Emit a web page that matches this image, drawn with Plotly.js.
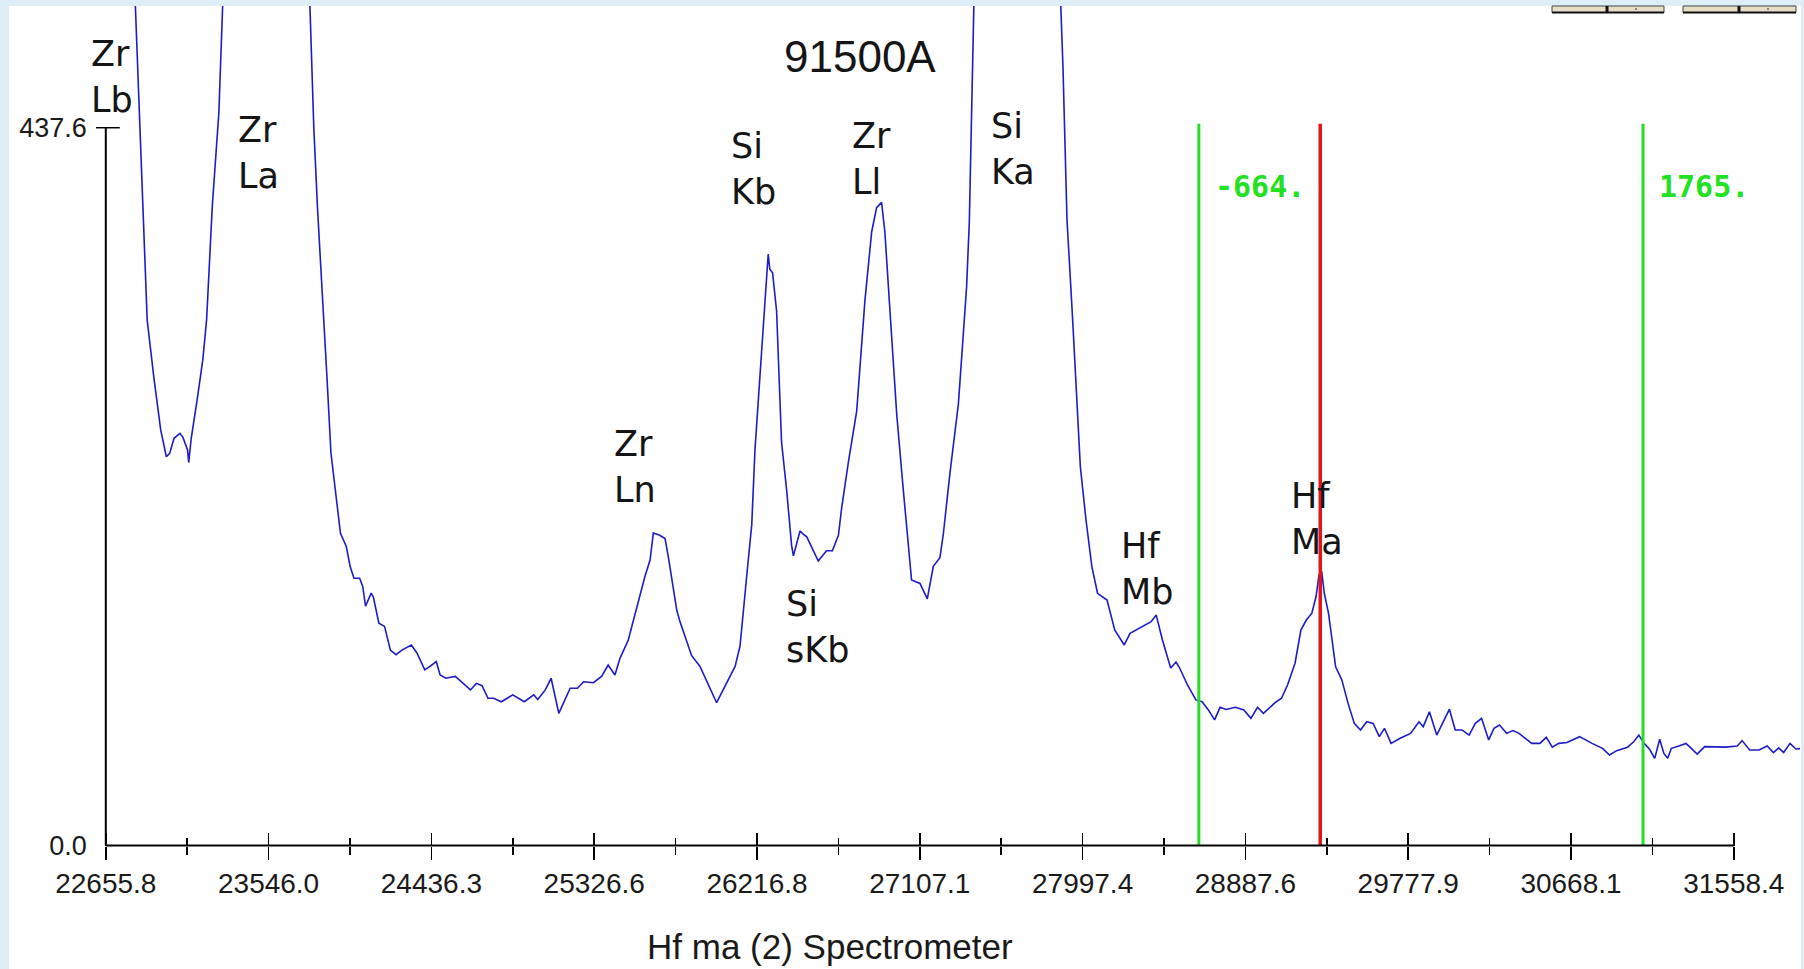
<!DOCTYPE html>
<html>
<head>
<meta charset="utf-8">
<script src="https://cdn.plot.ly/plotly-3.0.1.min.js"></script>
<style>
html,body{margin:0;padding:0;background:#dfedf7;}
#chart{width:1804px;height:969px;}
</style>
</head>
<body>
<div id="chart"></div>
<script>
// ---- spectrum data (spectrometer position vs counts) ----
const position = [22656,22706,22769,22819,22851,22882,22920,22956,22987,23005,
23029,23061,23077,23103,23109,23123,23155,23186,23207,23238,
23274,23291,23335,23430,23530,23681,23751,23772,23793,23813,
23845,23866,23887,23919,23939,23971,23992,24013,24044,24061,
24076,24107,24119,24149,24180,24212,24243,24275,24327,24358,
24400,24430,24463,24484,24515,24567,24650,24682,24713,24746,
24776,24819,24881,24944,24996,25018,25059,25091,25133,25195,
25235,25269,25322,25367,25403,25440,25468,25513,25559,25604,
25632,25650,25682,25714,25732,25778,25795,25859,25905,25996,
26097,26124,26169,26188,26206,26233,26261,26278,26287,26302,
26324,26351,26379,26406,26416,26428,26452,26468,26489,26552,
26597,26629,26662,26680,26716,26762,26807,26844,26871,26898,
26916,26944,26981,27017,27062,27108,27148,27181,27217,27235,
27272,27318,27345,27363,27378,27393,27406,27456,27632,27815,
27878,27890,27901,27912,27943,27964,27985,28016,28048,28079,
28131,28173,28225,28257,28309,28372,28400,28434,28479,28508,
28526,28571,28617,28651,28685,28719,28749,28782,28833,28879,
28918,28954,28986,29050,29085,29118,29159,29191,29221,29251,
29274,29290,29305,29319,29342,29358,29381,29415,29449,29483,
29517,29551,29586,29620,29648,29684,29734,29791,29837,29860,
29894,29934,29973,30003,30035,30072,30111,30145,30179,30218,
30247,30277,30316,30350,30384,30453,30498,30533,30566,30601,
30646,30715,30783,30840,30879,30918,30977,31011,31039,31068,
31098,31126,31153,31176,31197,31217,31258,31297,31326,31358,
31399,31445,31513,31577,31604,31645,31697,31741,31775,31804,
31831,31866,31898,31942];

const counts = [725.8,796.0,655.7,511.9,417.3,320.5,284.0,253.4,237.0,239.1,
248.3,251.3,249.0,241.2,233.5,248.3,271.6,295.9,320.5,389.5,
446.7,511.9,690.8,936.2,2479,866.1,585.6,511.9,438.3,389.5,
320.5,283.8,239.3,209.0,190.4,182.3,170.1,163.0,163.0,157.8,
145.9,153.9,151.5,135.6,133.6,119.2,116.4,119.2,122.3,117.3,
107.1,109.4,112.2,104.0,102.0,103.1,94.9,98.9,97.5,89.8,
89.8,87.7,91.9,87.7,91.9,89.1,94.9,102.0,80.6,95.9,
95.9,99.9,99.3,103.1,110.1,104.0,114.3,125.3,145.7,164.0,
174.1,190.5,189.3,187.2,176.0,143.6,136.7,115.9,109.2,87.1,
109.2,121.6,174.1,195.5,241.7,288.0,334.3,360.5,351.3,349.2,
325.9,246.0,216.6,183.0,176.6,182.3,191.8,190.0,188.2,173.5,
179.7,179.7,189.2,206.0,233.3,264.9,332.2,374.2,388.9,392.1,
374.2,325.9,262.8,216.6,161.9,159.8,150.4,170.3,175.5,189.2,
227.1,269.1,311.1,340.5,380.5,445.3,511.9,796.0,2619,796.0,
511.9,474.8,428.1,381.5,320.5,279.7,231.0,198.5,170.1,153.8,
149.7,131.4,122.3,129.4,132.5,136.5,140.5,125.3,108.3,111.9,
108.7,97.9,88.8,87.7,82.7,76.6,84.3,83.0,84.3,82.7,
77.6,84.3,80.6,87.1,89.8,97.9,111.2,131.4,137.5,141.7,
151.8,164.9,167.0,153.8,141.7,127.4,109.0,101.0,86.7,74.5,
70.5,75.5,74.5,66.4,71.5,62.3,65.4,68.4,75.5,72.5,
81.6,67.4,76.6,83.1,70.5,70.5,67.4,74.5,77.6,64.4,
71.5,73.5,68.4,70.1,68.4,62.3,62.3,66.0,60.0,62.3,
62.8,66.4,62.3,59.3,55.2,57.9,60.0,63.3,67.4,62.3,
58.7,53.2,64.8,56.2,53.3,59.3,60.7,62.3,59.3,55.8,
60.3,60.0,60.0,60.7,64.0,58.3,58.3,60.7,56.7,59.6,
56.7,62.3,58.9,59.3];

// ---- axis ticks ----
const tickPositions = [22655.8,23546.0,24436.3,25326.6,26216.8,27107.1,27997.4,28887.6,29777.9,30668.1,31558.4];
const tickLabels = ['22655.8','23546.0','24436.3','25326.6','26216.8','27107.1','27997.4','28887.6','29777.9','30668.1','31558.4'];
const minorTickPositions = [23100.9,23991.2,24881.5,25771.7,26662.0,27552.3,28442.5,29332.8,30223.0,31113.3];
const yTickValues = [0, 437.6];
const yTickLabels = ['0.0', '437.6'];

// ---- peak / background markers ----
const peakPosition = 29297;
const backgroundOffsets = [-664, 1765];
const backgroundLabels = ['-664.', '1765.'];
const markerTop = 440;

// ---- peak identification labels (text, left px, middle px) ----
const peakLabels = [
  {text:'Zr<br>Lb', left:89, mid:77},
  {text:'Zr<br>La', left:236, mid:153},
  {text:'Si<br>Kb', left:729, mid:169},
  {text:'Zr<br>Ll', left:850, mid:159},
  {text:'Si<br>Ka', left:989, mid:149},
  {text:'Zr<br>Ln', left:612, mid:467},
  {text:'Si<br>sKb', left:784, mid:627},
  {text:'Hf<br>Mb', left:1119, mid:569},
  {text:'Hf<br>Ma', left:1289, mid:519}
];

// ---- layout geometry ----
const W = 1804, H = 969;
const M = {l:96, r:4, t:6, b:113};
const plotW = W - M.l - M.r, plotH = H - M.t - M.b;
const px2x = p => (p - M.l) / plotW;
const px2y = p => (H - M.b - p) / plotH;
const xRange = [22602.2, 31920.4];
const yRange = [-6.34, 511.8];
const xAxisPos = px2y(845.6);
const yAxisPos = px2x(105.8);

const BLUE = '#1c1cc8', GREEN = '#22e022', RED = '#e3141a';

const traces = [
  {x: position, y: counts, type:'scatter', mode:'lines',
   line:{color:BLUE, width:1.6}, hoverinfo:'skip', showlegend:false}
];
const bgPositions = backgroundOffsets.map(o => peakPosition + o);
bgPositions.forEach(p => traces.push({x:[p,p], y:[0,markerTop], type:'scatter', mode:'lines',
  line:{color:GREEN, width:3}, hoverinfo:'skip', showlegend:false}));
traces.push({x:[peakPosition,peakPosition], y:[0,markerTop], type:'scatter', mode:'lines',
  line:{color:RED, width:3.5}, hoverinfo:'skip', showlegend:false});
traces.push({x:[tickPositions[0]], y:[0], xaxis:'x2', type:'scatter', mode:'markers',
  marker:{opacity:0}, hoverinfo:'skip', showlegend:false});

const labelFont = {family:'DejaVu Sans', size:35, color:'#151515'};
const annotations = peakLabels.map(l => ({
  xref:'paper', yref:'paper', x:px2x(l.left), y:px2y(l.mid),
  xanchor:'left', yanchor:'middle', align:'left', showarrow:false,
  text:l.text, font:labelFont
}));
annotations.push({xref:'paper', yref:'paper', x:px2x(782), y:px2y(56), xanchor:'left', yanchor:'middle',
  showarrow:false, text:'91500A', font:{family:'Liberation Sans', size:44, color:'#151515'}});
annotations.push({xref:'paper', yref:'paper', x:px2x(830), y:px2y(946), xanchor:'center', yanchor:'middle',
  showarrow:false, text:'Hf ma (2) Spectrometer', font:{family:'Liberation Sans', size:35, color:'#1a1a1a'}});
bgPositions.forEach((p,i) => annotations.push({xref:'x', yref:'y', x:p, y:402, xanchor:'left', yanchor:'middle',
  xshift:14, showarrow:false, text:backgroundLabels[i],
  font:{family:'DejaVu Sans Mono', size:30, color:GREEN, weight:'bold'}}));

const shapes = [
  {type:'rect', xref:'paper', yref:'paper', x0:px2x(9), x1:px2x(1801), y0:px2y(969), y1:px2y(6),
   fillcolor:'#ffffff', line:{width:0}, layer:'below'},
  // axis lines
  {type:'line', xref:'x', yref:'y', x0:tickPositions[0], x1:tickPositions[tickPositions.length-1], y0:0, y1:0,
   line:{color:'#000', width:2}, layer:'above'},
  {type:'line', xref:'x', yref:'y', x0:tickPositions[0], x1:tickPositions[0], y0:0, y1:yTickValues[1],
   line:{color:'#000', width:2}, layer:'above'},
  {type:'line', xref:'x', yref:'y', xsizemode:'pixel', xanchor:tickPositions[0], x0:-12, x1:14,
   y0:yTickValues[1], y1:yTickValues[1], line:{color:'#000', width:1.5}, layer:'above'}
];
// window buttons cut at the top-right
[[1552,1607,1636,1664],[1683,1739,1768,1796]].forEach(b => {
  shapes.push({type:'rect', xref:'paper', yref:'paper', x0:px2x(b[0]), x1:px2x(b[3]), y0:px2y(12.5), y1:px2y(6),
    fillcolor:'#e6dec6', line:{color:'#444', width:1}, layer:'above'});
  shapes.push({type:'line', xref:'paper', yref:'paper', x0:px2x(b[0]), x1:px2x(b[3]), y0:px2y(12.5), y1:px2y(12.5),
    line:{color:'#111', width:2}, layer:'above'});
  shapes.push({type:'line', xref:'paper', yref:'paper', x0:px2x(b[1]), x1:px2x(b[1]), y0:px2y(12.5), y1:px2y(6),
    line:{color:'#111', width:3}, layer:'above'});
  shapes.push({type:'line', xref:'paper', yref:'paper', x0:px2x(b[2]), x1:px2x(b[2]), y0:px2y(10), y1:px2y(8),
    line:{color:'#333', width:1}, layer:'above'});
});

const tickFont = {family:'Liberation Sans', size:28, color:'#1a1a1a'};
const layout = {
  width:W, height:H, margin:{l:M.l, r:M.r, t:M.t, b:M.b, pad:0},
  paper_bgcolor:'#dfedf7', plot_bgcolor:'#ffffff', showlegend:false,
  xaxis:{range:xRange, anchor:'free', position:xAxisPos, tickmode:'array', tickvals:tickPositions, ticktext:tickLabels,
    ticks:'outside', ticklen:13, tickwidth:1.5, tickcolor:'#000', showline:false, showgrid:false, zeroline:false,
    tickfont:tickFont, fixedrange:true,
    minor:{tickmode:'array', tickvals:minorTickPositions, ticks:'outside', ticklen:8, tickwidth:1.5, tickcolor:'#000', showgrid:false}},
  xaxis2:{range:xRange, overlaying:'x', anchor:'free', position:xAxisPos, side:'bottom', tickmode:'array', tickvals:tickPositions,
    ticks:'inside', ticklen:13, tickwidth:1.5, tickcolor:'#000', showticklabels:false, showline:false, showgrid:false, zeroline:false,
    fixedrange:true,
    minor:{tickmode:'array', tickvals:minorTickPositions, ticks:'inside', ticklen:8, tickwidth:1.5, tickcolor:'#000', showgrid:false}},
  yaxis:{range:yRange, anchor:'free', position:yAxisPos, tickmode:'array', tickvals:yTickValues, ticktext:yTickLabels,
    ticks:'', showline:false, showgrid:false, zeroline:false, ticklabelstandoff:19,
    tickfont:{family:'Liberation Sans', size:27, color:'#1a1a1a'}, fixedrange:true},
  annotations:annotations, shapes:shapes
};

Plotly.newPlot('chart', traces, layout, {staticPlot:true, displayModeBar:false});
</script>
</body>
</html>
